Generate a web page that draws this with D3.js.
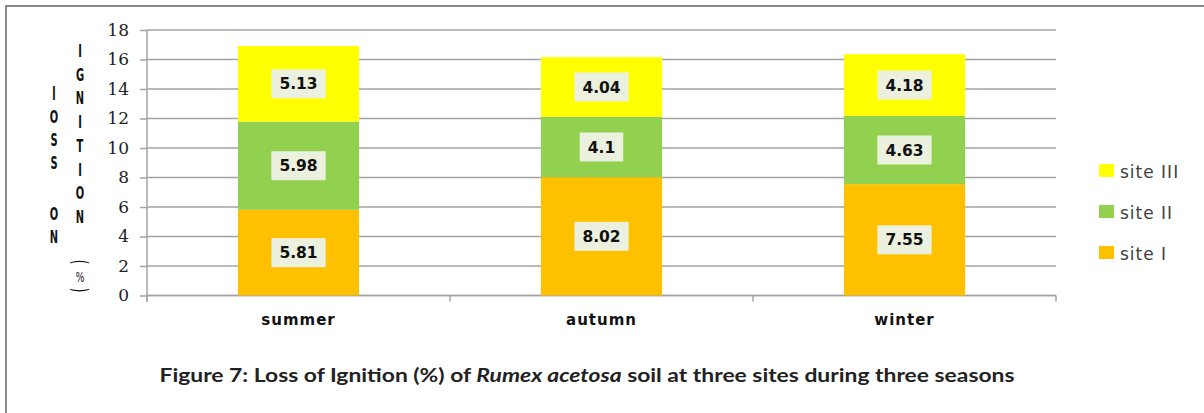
<!DOCTYPE html>
<html>
<head>
<meta charset="utf-8">
<script src="https://cdn.jsdelivr.net/npm/d3@7"></script>
<style>
  html, body { margin: 0; padding: 0; background: #fff; }
  svg { display: block; }
</style>
</head>
<body>
<script>
// ---- data ----
const categories = ["summer", "autumn", "winter"];
const seriesNames = ["site I", "site II", "site III"];
const siteI = [5.81, 8.02, 7.55];
const siteII = [5.98, 4.1, 4.63];
const siteIII = [5.13, 4.04, 4.18];
const yTicks = [0, 2, 4, 6, 8, 10, 12, 14, 16, 18];
const seriesColors = ["#FFC000", "#92D050", "#FFFF00"];
const yLabelCol1 = ["l", "O", "S", "S", "", "O", "N"];
const yLabelCol2 = ["I", "G", "N", "I", "T", "I", "O", "N"];

const W = 1204, H = 413;
const svg = d3.select("body").append("svg").attr("width", W).attr("height", H);

// outer frame
svg.append("rect").attr("x", 6).attr("y", 6).attr("width", W + 20).attr("height", H + 20)
  .attr("fill", "#fff").attr("stroke", "#888").attr("stroke-width", 2);

const rows = categories.map((c, i) => ({ cat: c, "site I": siteI[i], "site II": siteII[i], "site III": siteIII[i] }));
const stacked = d3.stack().keys(seriesNames)(rows);

const x = d3.scaleBand().domain(categories).range([147, 1056]).paddingInner(0.6).paddingOuter(0.3);
const y = d3.scaleLinear().domain([0, 18]).range([295.5, 30]);
const color = d3.scaleOrdinal().domain(seriesNames).range(seriesColors);

const gridColor = "#A3A3A3";

// gridlines
svg.append("g").selectAll("line").data(yTicks).join("line")
  .attr("x1", 147).attr("x2", 1056)
  .attr("y1", d => y(d)).attr("y2", d => y(d))
  .attr("stroke", gridColor).attr("stroke-width", 1.5);

// y axis
const yAxis = svg.append("g").attr("transform", "translate(147,0)")
  .call(d3.axisLeft(y).tickValues(yTicks).tickSize(7).tickPadding(11));
yAxis.select(".domain").attr("stroke", gridColor).attr("stroke-width", 1.5)
  .attr("d", `M0,${y(18)}V${y(0) + 6}`);
yAxis.selectAll(".tick line").attr("stroke", gridColor).attr("stroke-width", 1.5);
yAxis.selectAll(".tick text").attr("font-family", "DejaVu Serif").attr("font-size", 17)
  .attr("fill", "#222");

// x axis line + boundary ticks
svg.append("line").attr("x1", 147).attr("x2", 1056).attr("y1", y(0)).attr("y2", y(0))
  .attr("stroke", gridColor).attr("stroke-width", 1.5);
const boundaries = categories.map(c => x(c) - x.step() * x.paddingOuter()).concat([x(categories[categories.length - 1]) + x.bandwidth() + x.step() * x.paddingOuter()]);
svg.append("g").selectAll("line").data(boundaries).join("line")
  .attr("x1", d => d).attr("x2", d => d).attr("y1", y(0)).attr("y2", y(0) + 6)
  .attr("stroke", gridColor).attr("stroke-width", 1.5);

// category labels
svg.append("g").selectAll("text").data(categories).join("text")
  .attr("x", d => x(d) + x.bandwidth() / 2).attr("y", 325)
  .attr("text-anchor", "middle")
  .attr("font-family", "DejaVu Sans").attr("font-weight", "bold").attr("font-size", 15)
  .attr("letter-spacing", 1).attr("fill", "#111")
  .text(d => d);

// bars
const layers = svg.append("g").selectAll("g").data(stacked).join("g")
  .attr("fill", d => color(d.key));
layers.selectAll("rect").data(d => d).join("rect")
  .attr("x", d => x(d.data.cat)).attr("width", x.bandwidth())
  .attr("y", d => y(d[1])).attr("height", d => y(d[0]) - y(d[1]));

// value labels
const labelData = [];
stacked.forEach(s => s.forEach(d => labelData.push({ cat: d.data.cat, v: d.data[s.key], mid: (d[0] + d[1]) / 2 })));
const lg = svg.append("g").selectAll("g").data(labelData).join("g")
  .attr("transform", d => `translate(${x(d.cat) + x.bandwidth() / 2},${y(d.mid)})`);
lg.append("rect").attr("fill", "#EBF1DE");
const ltext = lg.append("text").attr("text-anchor", "middle").attr("dy", "0.36em")
  .attr("font-family", "DejaVu Sans").attr("font-weight", "bold").attr("font-size", 15.5)
  .attr("fill", "#111").text(d => String(d.v));
ltext.each(function () {
  const w = this.getComputedTextLength();
  d3.select(this.parentNode).select("rect")
    .attr("x", -w / 2 - 8).attr("width", w + 16).attr("y", -14.5).attr("height", 29);
});

// y label: stacked letters (condensed bold)
function letter(g, ch, cx, base) {
  g.append("text").attr("transform", `translate(${cx},${base}) scale(0.55,1)`)
    .attr("text-anchor", "middle")
    .attr("font-family", "DejaVu Sans").attr("font-weight", "bold").attr("font-size", 18)
    .attr("fill", "#111").text(ch);
}
const yl = svg.append("g");
const col1Base = [100, 123, 146, 169, 193, 220, 243];
yLabelCol1.forEach((ch, i) => { if (ch) letter(yl, ch, 54, col1Base[i]); });
yLabelCol2.forEach((ch, i) => letter(yl, ch, 80, 57 + i * 23.7));
// (%) with rotated parentheses
yl.append("text").attr("transform", "translate(80,262) rotate(90) scale(0.8,1.4)")
  .attr("text-anchor", "middle").attr("dy", "0.35em")
  .attr("font-family", "DejaVu Sans").attr("font-size", 15).attr("fill", "#111").text("(");
yl.append("text").attr("transform", "translate(80,282) scale(0.65,1)")
  .attr("text-anchor", "middle")
  .attr("font-family", "DejaVu Sans").attr("font-size", 14).attr("fill", "#111").text("%");
yl.append("text").attr("transform", "translate(80,290) rotate(90) scale(0.8,1.4)")
  .attr("text-anchor", "middle").attr("dy", "0.35em")
  .attr("font-family", "DejaVu Sans").attr("font-size", 15).attr("fill", "#111").text(")");

// legend (reverse order)
const legendOrder = seriesNames.slice().reverse();
const leg = svg.append("g").selectAll("g").data(legendOrder).join("g")
  .attr("transform", (d, i) => `translate(1099,${171 + i * 41})`);
leg.append("rect").attr("x", 0).attr("y", -7).attr("width", 15).attr("height", 13)
  .attr("fill", d => color(d));
leg.append("text").attr("x", 21).attr("y", 6.5)
  .attr("font-family", "DejaVu Sans").attr("font-size", 17).attr("letter-spacing", 1)
  .attr("fill", "#404040").text(d => d);

// caption (stretched to the reference width)
const cap = svg.append("text").attr("x", 587).attr("y", 382).attr("text-anchor", "middle")
  .attr("font-family", "Lato").attr("font-weight", "bold").attr("font-size", 19).attr("fill", "#222")
  .attr("textLength", 855).attr("lengthAdjust", "spacingAndGlyphs");
cap.append("tspan").text("Figure 7: Loss of Ignition (%) of ");
cap.append("tspan").attr("font-style", "italic").text("Rumex acetosa");
cap.append("tspan").text(" soil at three sites during three seasons");
</script>
</body>
</html>
